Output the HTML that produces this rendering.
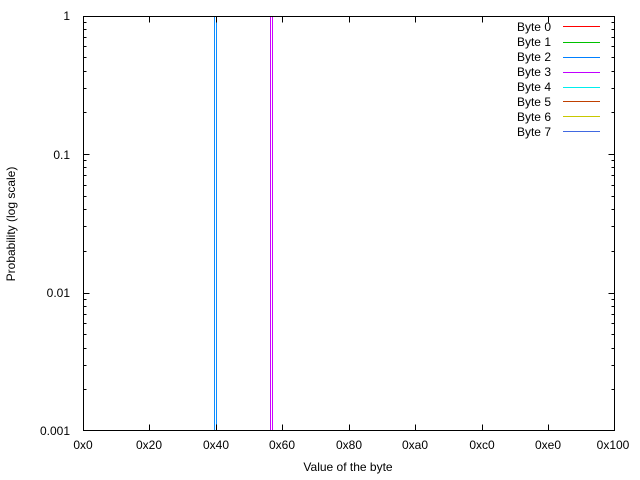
<!DOCTYPE html>
<html><head><meta charset="utf-8"><style>
html,body{margin:0;padding:0;background:#fff;}
svg{display:block;}
text{font-family:"Liberation Sans",sans-serif;font-size:12px;fill:#000;}
</style></head><body>
<svg width="640" height="480" viewBox="0 0 640 480" xmlns="http://www.w3.org/2000/svg">
<rect width="640" height="480" fill="#fff"/>
<g id="lines" shape-rendering="crispEdges">
<rect x="214" y="16" width="1" height="415" fill="#0a8cff"/>
<rect x="216" y="16" width="1" height="415" fill="#0a8cff"/>
<rect x="270" y="16" width="1" height="415" fill="#cc00ff"/>
<rect x="272" y="16" width="1" height="415" fill="#cc00ff"/>
</g>
<g stroke="#000" stroke-width="1" fill="none" shape-rendering="crispEdges">
<rect x="83.5" y="16.5" width="531" height="414"/>
<path d="
M83.5 16.5h6M614.5 16.5h-6
M83.5 154.5h6M614.5 154.5h-6
M83.5 293.5h6M614.5 293.5h-6
M83.5 430.5h6M614.5 430.5h-6
M149.5 430.5v-6M149.5 16.5v6
M216.5 430.5v-6M216.5 16.5v6
M282.5 430.5v-6M282.5 16.5v6
M349.5 430.5v-6M349.5 16.5v6
M415.5 430.5v-6M415.5 16.5v6
M482.5 430.5v-6M482.5 16.5v6
M548.5 430.5v-6M548.5 16.5v6
"/>
<path id="minor" d="
M83.5 389.5h3M614.5 389.5h-3
M83.5 365.5h3M614.5 365.5h-3
M83.5 348.5h3M614.5 348.5h-3
M83.5 334.5h3M614.5 334.5h-3
M83.5 323.5h3M614.5 323.5h-3
M83.5 314.5h3M614.5 314.5h-3
M83.5 306.5h3M614.5 306.5h-3
M83.5 299.5h3M614.5 299.5h-3
M83.5 251.5h3M614.5 251.5h-3
M83.5 226.5h3M614.5 226.5h-3
M83.5 209.5h3M614.5 209.5h-3
M83.5 196.5h3M614.5 196.5h-3
M83.5 185.5h3M614.5 185.5h-3
M83.5 175.5h3M614.5 175.5h-3
M83.5 167.5h3M614.5 167.5h-3
M83.5 160.5h3M614.5 160.5h-3
M83.5 112.5h3M614.5 112.5h-3
M83.5 88.5h3M614.5 88.5h-3
M83.5 71.5h3M614.5 71.5h-3
M83.5 57.5h3M614.5 57.5h-3
M83.5 46.5h3M614.5 46.5h-3
M83.5 37.5h3M614.5 37.5h-3
M83.5 29.5h3M614.5 29.5h-3
M83.5 22.5h3M614.5 22.5h-3
"/>
</g>
<g text-anchor="end">
<text x="70" y="20">1</text>
<text x="70" y="159">0.1</text>
<text x="70" y="297">0.01</text>
<text x="70" y="435">0.001</text>
</g>
<g text-anchor="middle">
<text x="83" y="449">0x0</text>
<text x="149" y="449">0x20</text>
<text x="216" y="449">0x40</text>
<text x="282" y="449">0x60</text>
<text x="349" y="449">0x80</text>
<text x="415" y="449">0xa0</text>
<text x="482" y="449">0xc0</text>
<text x="548" y="449">0xe0</text>
<text x="613" y="449">0x100</text>
<text x="348" y="471">Value of the byte</text>
<text transform="translate(15,224) rotate(-90)">Probability (log scale)</text>
</g>
<g text-anchor="end">
<text x="551" y="31">Byte 0</text>
<text x="551" y="46">Byte 1</text>
<text x="551" y="61">Byte 2</text>
<text x="551" y="76">Byte 3</text>
<text x="551" y="91">Byte 4</text>
<text x="551" y="106">Byte 5</text>
<text x="551" y="121">Byte 6</text>
<text x="551" y="136">Byte 7</text>
</g>
<g shape-rendering="crispEdges">
<rect x="563" y="26" width="37" height="1" fill="#ff0000"/>
<rect x="563" y="42" width="37" height="1" fill="#00c000"/>
<rect x="563" y="57" width="37" height="1" fill="#0080ff"/>
<rect x="563" y="72" width="37" height="1" fill="#c000ff"/>
<rect x="563" y="87" width="37" height="1" fill="#00eeee"/>
<rect x="563" y="101" width="37" height="1" fill="#c04000"/>
<rect x="563" y="116" width="37" height="1" fill="#c8c800"/>
<rect x="563" y="131" width="37" height="1" fill="#4169e1"/>
</g>
</svg>
</body></html>
